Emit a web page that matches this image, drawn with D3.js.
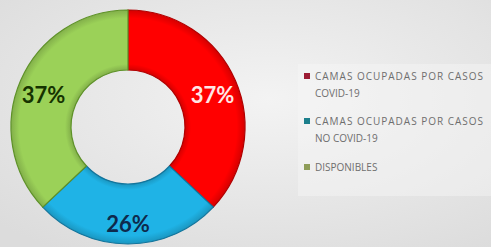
<!DOCTYPE html>
<html>
<head>
<meta charset="utf-8">
<script src="https://cdn.jsdelivr.net/npm/d3@7"></script>
<style>
  body { margin: 0; background: #e4e4e4; }
  svg { display: block; }
</style>
</head>
<body>
<div id="chart"></div>
<script>
const categories = ['CAMAS OCUPADAS POR CASOS COVID-19', 'CAMAS OCUPADAS POR CASOS NO COVID-19', 'DISPONIBLES'];
const legendLines = [['CAMAS OCUPADAS POR CASOS', 'COVID-19'], ['CAMAS OCUPADAS POR CASOS', 'NO COVID-19'], ['DISPONIBLES']];
const values = [37, 26, 37];
const sliceColors = ['#ff0000', '#1fb3e6', '#9bd158'];
const edgeColors = ['#b00000', '#13759c', '#5e9228'];
const markerColors = ['#9c1c34', '#1c7f8c', '#8e9c58'];
const labelColors = ['#ffe6e6', '#0e2a4c', '#163300'];

const width = 491, height = 247;
const cx = 128, cy = 127, outerR = 117, innerR = 57;

const svg = d3.select('#chart').append('svg')
  .attr('width', width)
  .attr('height', height);

const defs = svg.append('defs');
const bg = defs.append('radialGradient')
  .attr('id', 'bg')
  .attr('cx', '55%').attr('cy', '40%').attr('r', '75%');
bg.append('stop').attr('offset', '0%').attr('stop-color', '#f3f3f3');
bg.append('stop').attr('offset', '100%').attr('stop-color', '#dcdcdc');

// slight bevel: darker rim at inner and outer edges
sliceColors.forEach((c, i) => {
  const gr = defs.append('radialGradient')
    .attr('id', 'sl' + i)
    .attr('gradientUnits', 'userSpaceOnUse')
    .attr('cx', 0).attr('cy', 0).attr('r', outerR);
  gr.append('stop').attr('offset', innerR / outerR).attr('stop-color', d3.color(c).darker(0.5));
  gr.append('stop').attr('offset', (innerR + 6) / outerR).attr('stop-color', c);
  gr.append('stop').attr('offset', 0.93).attr('stop-color', c);
  gr.append('stop').attr('offset', 1).attr('stop-color', d3.color(c).darker(0.5));
});

svg.append('rect')
  .attr('width', width).attr('height', height)
  .attr('fill', 'url(#bg)');

// faint legend panel
svg.append('rect')
  .attr('x', 298).attr('y', 64)
  .attr('width', 193).attr('height', 132)
  .attr('fill', '#f6f6f6')
  .attr('opacity', 0.45);

const pie = d3.pie().sort(null).value((d) => d);
const arcs = pie(values);
const arc = d3.arc().innerRadius(innerR).outerRadius(outerR);
const labelArc = d3.arc().innerRadius(92).outerRadius(92);

const g = svg.append('g')
  .attr('transform', `translate(${cx}, ${cy})`);

g.selectAll('path')
  .data(arcs)
  .enter()
  .append('path')
  .attr('d', arc)
  .attr('fill', (d, i) => `url(#sl${i})`)
  .attr('stroke', (d, i) => edgeColors[i])
  .attr('stroke-width', 1.2);

g.selectAll('text')
  .data(arcs)
  .enter()
  .append('text')
  .attr('transform', (d) => {
    const [x, y] = labelArc.centroid(d);
    return `translate(${x}, ${y + 4})`;
  })
  .attr('text-anchor', 'middle')
  .attr('dominant-baseline', 'central')
  .attr('font-family', 'Lato, "Open Sans", sans-serif')
  .attr('font-weight', 'bold')
  .attr('font-size', '22px')
  .attr('fill', (d, i) => labelColors[i])
  .text((d) => d.data + '%');

// legend
const legendY = [76, 121, 167];
const legend = svg.append('g')
  .attr('font-family', '"Open Sans", sans-serif')
  .attr('font-size', '10px')
  .attr('fill', '#6e6e6e');

categories.forEach((cat, i) => {
  const item = legend.append('g')
    .attr('transform', `translate(304, ${legendY[i]})`);
  item.append('rect')
    .attr('x', 0).attr('y', -3)
    .attr('width', 6).attr('height', 6)
    .attr('fill', markerColors[i]);
  legendLines[i].forEach((line, j) => {
    item.append('text')
      .attr('x', 11)
      .attr('y', j * 17)
      .attr('dominant-baseline', 'central')
      .attr('textLength', line.length > 20 ? 168 : null)
      .text(line);
  });
});
</script>
</body>
</html>
